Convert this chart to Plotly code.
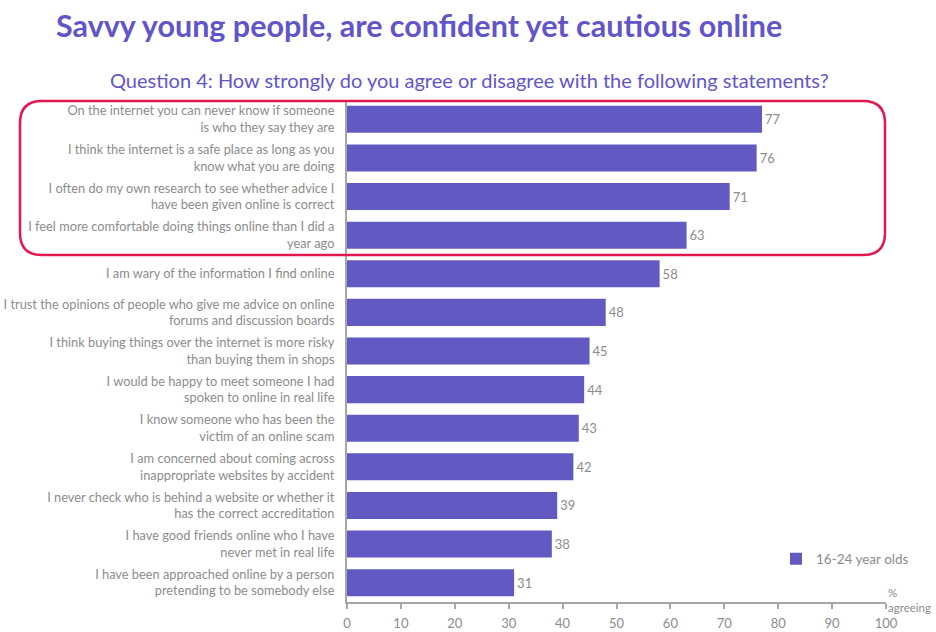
import plotly.graph_objects as go

# Survey statements (top to bottom) and share of 16-24 year olds agreeing (%)
statements = [
    "On the internet you can never know if someone<br>is who they say they are",
    "I think the internet is a safe place as long as you<br>know what you are doing",
    "I often do my own research to see whether advice I<br>have been given online is correct",
    "I feel more comfortable doing things online than I did a<br>year ago",
    "I am wary of the information I find online",
    "I trust the opinions of people who give me advice on online<br>forums and discussion boards",
    "I think buying things over the internet is more risky<br>than buying them in shops",
    "I would be happy to meet someone I had<br>spoken to online in real life",
    "I know someone who has been the<br>victim of an online scam",
    "I am concerned about coming across<br>inappropriate websites by accident",
    "I never check who is behind a website or whether it<br>has the correct accreditation",
    "I have good friends online who I have<br>never met in real life",
    "I have been approached online by a person<br>pretending to be somebody else",
]
agreeing = [77, 76, 71, 63, 58, 48, 45, 44, 43, 42, 39, 38, 31]
series_name = "16-24 year olds"
x_ticks = [0, 10, 20, 30, 40, 50, 60, 70, 80, 90, 100]

PURPLE = "#6359C3"
GREY = "#8C8C8C"
AXIS = "#A6A6A6"
RED = "#E5174F"
FONT = "Lato"

W, H = 936, 632
L, R, T, B = 347, 50, 100, 30
PW, PH = W - L - R, H - T - B


def px(x):
    return (x - L) / PW


def py(y):
    return (H - B - y) / PH


fig = go.Figure()
fig.add_trace(go.Bar(
    x=agreeing,
    y=statements,
    orientation="h",
    name=series_name,
    marker=dict(color=PURPLE, line=dict(width=0)),
    width=0.7,
    text=[str(v) for v in agreeing],
    textposition="outside",
    textfont=dict(family=FONT, size=13, color=GREY),
    cliponaxis=False,
    showlegend=True,
))

# Rounded frame around the top four statements
x0, x1, y0, y1 = px(20), px(885), py(101), py(255)
rx, ry = 22 / PW, 22 / PH
frame = (
    f"M {x0 + rx} {y0} L {x1 - rx} {y0} Q {x1} {y0} {x1} {y0 - ry} "
    f"L {x1} {y1 + ry} Q {x1} {y1} {x1 - rx} {y1} "
    f"L {x0 + rx} {y1} Q {x0} {y1} {x0} {y1 + ry} "
    f"L {x0} {y0 - ry} Q {x0} {y0} {x0 + rx} {y0} Z"
)

fig.update_layout(
    width=W, height=H,
    margin=dict(l=L, r=R, t=T, b=B, pad=0, autoexpand=False),
    paper_bgcolor="white",
    plot_bgcolor="white",
    bargap=0.3,
    font=dict(family=FONT, size=12, color=GREY),
    xaxis=dict(
        range=[0, 100],
        tickvals=x_ticks,
        showgrid=False,
        zeroline=False,
        showline=True,
        linecolor=AXIS,
        linewidth=2,
        ticks="outside",
        ticklen=5,
        tickwidth=2,
        tickcolor=AXIS,
        ticklabelstandoff=3,
        tickfont=dict(family=FONT, size=13, color=GREY),
        automargin=False,
        fixedrange=True,
    ),
    yaxis=dict(
        categoryorder="array",
        categoryarray=statements[::-1],
        showgrid=False,
        zeroline=False,
        showline=True,
        linecolor=AXIS,
        linewidth=2,
        ticks="",
        ticklabelstandoff=8,
        tickfont=dict(family=FONT, size=12.8, color=GREY),
        automargin=False,
        fixedrange=True,
    ),
    legend=dict(
        x=px(776), y=py(559), xanchor="left", yanchor="middle",
        font=dict(family=FONT, size=13.5, color=GREY),
        bgcolor="rgba(0,0,0,0)",
        itemsizing="constant",
    ),
    shapes=[dict(
        type="path", path=frame, xref="paper", yref="paper",
        line=dict(color=RED, width=2.5), fillcolor="rgba(0,0,0,0)",
        layer="above",
    )],
    annotations=[
        dict(
            text="<b>Savvy young people, are confident yet cautious online</b>",
            x=px(54), y=py(25), xref="paper", yref="paper",
            xanchor="left", yanchor="middle", showarrow=False,
            font=dict(family=FONT, size=30.5, color="#6155C8"),
        ),
        dict(
            text="Question 4: How strongly do you agree or disagree with the following statements?",
            x=px(469), y=py(80), xref="paper", yref="paper",
            xanchor="center", yanchor="middle", showarrow=False,
            font=dict(family=FONT, size=20, color="#6155C8"),
        ),
        dict(
            text="%<br>agreeing",
            x=px(886), y=py(600), xref="paper", yref="paper",
            xanchor="left", yanchor="middle", align="left", showarrow=False,
            font=dict(family=FONT, size=11.5, color=GREY),
        ),
    ],
)

fig.write_html("out.html")
